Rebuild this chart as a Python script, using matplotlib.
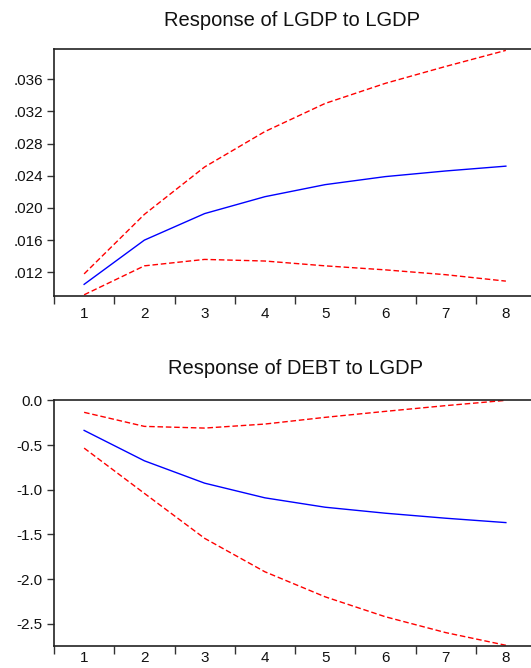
import matplotlib
matplotlib.use("Agg")
import matplotlib.pyplot as plt
from matplotlib.ticker import FixedLocator, FixedFormatter

plt.rcParams['font.family'] = ['Liberation Sans', 'DejaVu Sans']

periods = [1, 2, 3, 4, 5, 6, 7, 8]

lgdp_resp = [0.0105, 0.0160, 0.0193, 0.0214, 0.0229, 0.0239, 0.0246, 0.0252]
lgdp_upper = [0.0118, 0.0192, 0.0251, 0.0295, 0.0330, 0.0355, 0.0376, 0.0396]
lgdp_lower = [0.0092, 0.0128, 0.0136, 0.0134, 0.0128, 0.0123, 0.0117, 0.0109]

debt_resp = [-0.336, -0.676, -0.926, -1.090, -1.195, -1.262, -1.318, -1.367]
debt_upper = [-0.134, -0.291, -0.310, -0.265, -0.190, -0.123, -0.059, 0.000]
debt_lower = [-0.534, -1.040, -1.543, -1.917, -2.197, -2.420, -2.597, -2.739]

top_title = "Response of LGDP to LGDP"
bottom_title = "Response of DEBT to LGDP"

top_yticks = [0.012, 0.016, 0.020, 0.024, 0.028, 0.032, 0.036]
top_ylabels = [".012", ".016", ".020", ".024", ".028", ".032", ".036"]
bottom_yticks = [-2.5, -2.0, -1.5, -1.0, -0.5, 0.0]
bottom_ylabels = ["-2.5", "-2.0", "-1.5", "-1.0", "-0.5", "0.0"]

W, H = 531, 668
fig = plt.figure(figsize=(W / 100, H / 100), dpi=100)

def make_axes(top_px, bottom_px):
    left = 54 / W
    right = 536 / W
    return fig.add_axes([left, 1 - bottom_px / H, right - left, (bottom_px - top_px) / H])

ax1 = make_axes(49, 296)
ax2 = make_axes(400, 646)

def style(ax, yticks, ylabels, ylim, xpad):
    ax.set_xlim(0.5, 8.5)
    ax.set_ylim(*ylim)
    ax.xaxis.set_major_locator(FixedLocator(periods))
    ax.xaxis.set_major_formatter(FixedFormatter([str(p) for p in periods]))
    ax.xaxis.set_minor_locator(FixedLocator([p + 0.5 for p in range(0, 9)]))
    ax.tick_params(axis='x', which='major', length=0, pad=xpad, labelsize=11, labelcolor='#111111')
    ax.tick_params(axis='x', which='minor', length=6, width=1, direction='out', color='#333333')
    ax.yaxis.set_major_locator(FixedLocator(yticks))
    ax.yaxis.set_major_formatter(FixedFormatter(ylabels))
    ax.tick_params(axis='y', which='major', length=5, width=1, direction='out', pad=3,
                   labelsize=11, color='#333333', labelcolor='#111111')
    for s in ['left', 'top', 'bottom']:
        ax.spines[s].set_linewidth(1.2)
        ax.spines[s].set_color('#222222')
    ax.spines['right'].set_visible(False)

ax1.plot(periods, lgdp_resp, color='#0000ff', lw=1.0)
ax1.plot(periods, lgdp_upper, color='#ff0000', lw=1.0, dashes=(4, 2))
ax1.plot(periods, lgdp_lower, color='#ff0000', lw=1.0, dashes=(4, 2))
style(ax1, top_yticks, top_ylabels, (0.00905, 0.03977), 8)

ax2.plot(periods, debt_resp, color='#0000ff', lw=1.0)
ax2.plot(periods, debt_upper, color='#ff0000', lw=1.0, dashes=(4, 2))
ax2.plot(periods, debt_lower, color='#ff0000', lw=1.0, dashes=(4, 2))
style(ax2, bottom_yticks, bottom_ylabels, (-2.747, 0.004), 3.5)

fig.text(292 / W, 1 - 20 / H, top_title, ha='center', va='center', fontsize=14.5, color='#111111')
fig.text(296 / W, 1 - 368 / H, bottom_title, ha='center', va='center', fontsize=14.5, color='#111111')

fig.savefig("out.png", dpi=100)
